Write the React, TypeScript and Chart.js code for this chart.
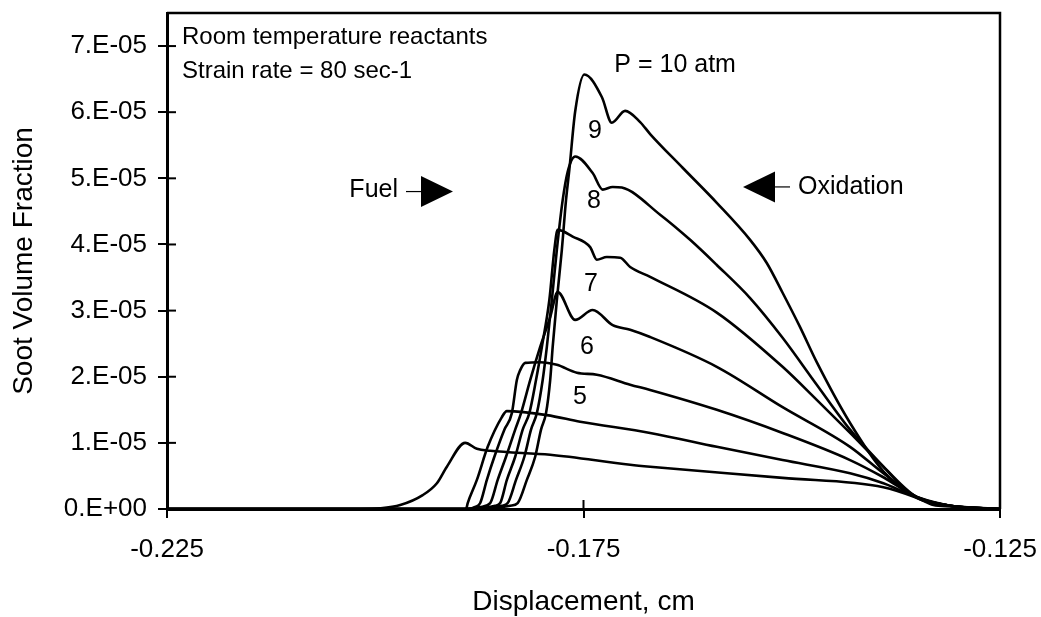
import React, { useEffect, useRef } from 'react';
import { Chart, registerables } from 'chart.js';

Chart.register(...registerables);

const FONT = '"Liberation Sans", Arial, Helvetica, sans-serif';

// Axis ticks
const xTicks = [-0.225, -0.175, -0.125];
const yTicks = [0, 1e-5, 2e-5, 3e-5, 4e-5, 5e-5, 6e-5, 7e-5];

// Pressure labels (atm)
const pressures = [4, 5, 6, 7, 8, 9, 10];

// Series: displacement (cm) and soot volume fraction
const p4X = [-0.225, -0.2018, -0.1994, -0.197, -0.1943, -0.1926, -0.1914, -0.1892, -0.1878, -0.1862, -0.179, -0.1694, -0.167, -0.1511, -0.139, -0.135, -0.133, -0.131, -0.128, -0.125];
const p4Y = [0, 0, 0.01e-5, 0.06e-5, 0.21e-5, 0.39e-5, 0.64e-5, 1.0e-5, 0.91e-5, 0.88e-5, 0.82e-5, 0.67e-5, 0.64e-5, 0.47e-5, 0.33e-5, 0.17e-5, 0.06e-5, 0.04e-5, 0.02e-5, 0];

const p5X = [-0.225, -0.1891, -0.1889, -0.1878, -0.1865, -0.1848, -0.1842, -0.1794, -0.1754, -0.167, -0.159, -0.1511, -0.143, -0.139, -0.135, -0.131, -0.128, -0.125];
const p5Y = [0, 0, 0.09e-5, 0.44e-5, 0.94e-5, 1.39e-5, 1.48e-5, 1.42e-5, 1.32e-5, 1.15e-5, 0.94e-5, 0.74e-5, 0.54e-5, 0.39e-5, 0.18e-5, 0.05e-5, 0.02e-5, 0];

const p6X = [-0.225, -0.189, -0.188, -0.1874, -0.1866, -0.1857, -0.1845, -0.1836, -0.183, -0.1826, -0.182, -0.1802, -0.1782, -0.1758, -0.1734, -0.1694, -0.167, -0.159, -0.1511, -0.143, -0.139, -0.135, -0.131, -0.125];
const p6Y = [0, 0, 0.03e-5, 0.09e-5, 0.44e-5, 0.79e-5, 1.2e-5, 1.45e-5, 1.95e-5, 2.1e-5, 2.21e-5, 2.22e-5, 2.18e-5, 2.06e-5, 2.03e-5, 1.88e-5, 1.8e-5, 1.5e-5, 1.15e-5, 0.74e-5, 0.48e-5, 0.18e-5, 0.05e-5, 0];

const p7X = [-0.225, -0.189, -0.1874, -0.1862, -0.1853, -0.1843, -0.1832, -0.1825, -0.1814, -0.1802, -0.179, -0.1781, -0.176, -0.1739, -0.1715, -0.1694, -0.167, -0.159, -0.1511, -0.143, -0.139, -0.135, -0.131, -0.125];
const p7Y = [0, 0, 0.03e-5, 0.09e-5, 0.44e-5, 0.79e-5, 1.2e-5, 1.45e-5, 1.95e-5, 2.45e-5, 2.9e-5, 3.28e-5, 2.86e-5, 3.01e-5, 2.78e-5, 2.71e-5, 2.6e-5, 2.15e-5, 1.54e-5, 0.94e-5, 0.54e-5, 0.18e-5, 0.05e-5, 0];

const p8X = [-0.225, -0.189, -0.1868, -0.1856, -0.185, -0.1842, -0.1832, -0.1823, -0.1815, -0.1807, -0.18, -0.1791, -0.1785, -0.1781, -0.1763, -0.1742, -0.1734, -0.1722, -0.1706, -0.1694, -0.167, -0.159, -0.1511, -0.147, -0.143, -0.139, -0.135, -0.131, -0.125];
const p8Y = [0, 0, 0.02e-5, 0.05e-5, 0.09e-5, 0.44e-5, 0.79e-5, 1.2e-5, 1.45e-5, 1.95e-5, 2.45e-5, 3.16e-5, 3.92e-5, 4.22e-5, 4.12e-5, 3.96e-5, 3.77e-5, 3.81e-5, 3.8e-5, 3.66e-5, 3.51e-5, 2.97e-5, 2.15e-5, 1.65e-5, 1.15e-5, 0.64e-5, 0.18e-5, 0.05e-5, 0];

const p9X = [-0.225, -0.189, -0.1862, -0.1848, -0.1841, -0.1831, -0.1821, -0.1813, -0.1806, -0.1799, -0.1794, -0.1788, -0.1782, -0.1775, -0.1769, -0.176, -0.1739, -0.1727, -0.1715, -0.1704, -0.1658, -0.1622, -0.159, -0.155, -0.1511, -0.147, -0.143, -0.139, -0.1358, -0.131, -0.125];
const p9Y = [0, 0, 0.02e-5, 0.05e-5, 0.09e-5, 0.44e-5, 0.79e-5, 1.2e-5, 1.45e-5, 1.95e-5, 2.45e-5, 3.16e-5, 3.92e-5, 4.67e-5, 5.1e-5, 5.33e-5, 5.08e-5, 4.83e-5, 4.87e-5, 4.86e-5, 4.45e-5, 4.07e-5, 3.69e-5, 3.19e-5, 2.59e-5, 1.88e-5, 1.2e-5, 0.64e-5, 0.24e-5, 0.05e-5, 0];

const p10X = [-0.225, -0.189, -0.1856, -0.1838, -0.1829, -0.1818, -0.1808, -0.1801, -0.1795, -0.179, -0.1787, -0.1782, -0.1776, -0.1771, -0.1767, -0.176, -0.1749, -0.1728, -0.1716, -0.17, -0.1682, -0.167, -0.1631, -0.159, -0.155, -0.153, -0.1511, -0.149, -0.147, -0.143, -0.139, -0.135, -0.131, -0.125];
const p10Y = [0, 0, 0.02e-5, 0.05e-5, 0.09e-5, 0.44e-5, 0.79e-5, 1.2e-5, 1.45e-5, 1.95e-5, 2.45e-5, 3.16e-5, 3.92e-5, 4.67e-5, 5.13e-5, 6.01e-5, 6.57e-5, 6.23e-5, 5.84e-5, 6.02e-5, 5.85e-5, 5.67e-5, 5.16e-5, 4.63e-5, 4.07e-5, 3.72e-5, 3.27e-5, 2.75e-5, 2.22e-5, 1.3e-5, 0.57e-5, 0.17e-5, 0.05e-5, 0];

const seriesX = [p4X, p5X, p6X, p7X, p8X, p9X, p10X];
const seriesY = [p4Y, p5Y, p6Y, p7Y, p8Y, p9Y, p10Y];

// Text annotations placed in data coordinates
const notes = [
  { text: 'Room temperature reactants', x: -0.2232, y: 7.03e-5, align: 'left', base: 'alphabetic', size: 24 },
  { text: 'Strain rate = 80 sec-1', x: -0.2232, y: 6.51e-5, align: 'left', base: 'alphabetic', size: 24 },
  { text: 'P = 10 atm', x: -0.1713, y: 6.61e-5, align: 'left', base: 'alphabetic', size: 25 },
  { text: '9', x: -0.17362, y: 5.72e-5, align: 'center', base: 'middle', size: 25 },
  { text: '8', x: -0.17374, y: 4.66e-5, align: 'center', base: 'middle', size: 25 },
  { text: '7', x: -0.1741, y: 3.4e-5, align: 'center', base: 'middle', size: 25 },
  { text: '6', x: -0.17458, y: 2.45e-5, align: 'center', base: 'middle', size: 25 },
  { text: '5', x: -0.17542, y: 1.69e-5, align: 'center', base: 'middle', size: 25 },
  { text: 'Fuel', x: -0.19727, y: 4.72e-5, align: 'right', base: 'alphabetic', size: 25 },
  { text: 'Oxidation', x: -0.14925, y: 4.77e-5, align: 'left', base: 'alphabetic', size: 25 },
];

// Arrow tips (dir 1 = pointing right, -1 = pointing left)
const arrows = [
  { x: -0.19067, y: 4.8e-5, dir: 1 },
  { x: -0.15585, y: 4.87e-5, dir: -1 },
];

function sci(v: number): string {
  if (Math.abs(v) < 1e-12) return '0.E+00';
  const e = Math.floor(Math.log10(Math.abs(v)) + 1e-9);
  const m = Math.round(v / Math.pow(10, e));
  const s = e < 0 ? '-' : '+';
  const a = Math.abs(e);
  return `${m}.E${s}${a < 10 ? '0' + a : a}`;
}

function noPad(s: any) {
  s.paddingTop = 0;
  s.paddingBottom = 0;
  s.paddingLeft = 0;
  s.paddingRight = 0;
}

const framePlugin = {
  id: 'frameAndNotes',
  afterDraw(chart: any) {
    const { ctx, chartArea: a, scales } = chart;
    const xs = scales.x;
    const ys = scales.y;
    ctx.save();
    ctx.strokeStyle = '#000';
    ctx.lineWidth = 2.5;
    ctx.beginPath();
    ctx.moveTo(a.left, a.top);
    ctx.lineTo(a.right, a.top);
    ctx.lineTo(a.right, a.bottom);
    ctx.stroke();

    ctx.lineWidth = 2;
    yTicks.forEach((v) => {
      const py = ys.getPixelForValue(v);
      ctx.beginPath();
      ctx.moveTo(a.left, py);
      ctx.lineTo(a.left + 9, py);
      ctx.stroke();
    });
    xTicks.forEach((v) => {
      const px = xs.getPixelForValue(v);
      ctx.beginPath();
      ctx.moveTo(px, a.bottom);
      ctx.lineTo(px, a.bottom - 9);
      ctx.stroke();
    });

    ctx.fillStyle = '#000';
    notes.forEach((n) => {
      ctx.font = `${n.size}px ${FONT}`;
      ctx.textAlign = n.align;
      ctx.textBaseline = n.base;
      ctx.fillText(n.text, xs.getPixelForValue(n.x), ys.getPixelForValue(n.y));
    });

    arrows.forEach((ar) => {
      const tx = xs.getPixelForValue(ar.x);
      const ty = ys.getPixelForValue(ar.y);
      const d = ar.dir;
      ctx.beginPath();
      ctx.moveTo(tx, ty);
      ctx.lineTo(tx - d * 32, ty - 15.5);
      ctx.lineTo(tx - d * 32, ty + 15.5);
      ctx.closePath();
      ctx.fill();
      ctx.lineWidth = 1.2;
      ctx.beginPath();
      ctx.moveTo(tx - d * 32, ty);
      ctx.lineTo(tx - d * 47, ty);
      ctx.stroke();
    });
    ctx.restore();
  },
};

export default function App() {
  const ref = useRef<HTMLCanvasElement | null>(null);

  useEffect(() => {
    if (!ref.current) return;
    const datasets = seriesX.map((xs, i) => ({
      label: `P = ${pressures[i]} atm`,
      data: xs.map((x, j) => ({ x, y: seriesY[i][j] })),
      borderColor: '#000',
      borderWidth: 2.6,
      pointRadius: 0,
      fill: false,
      cubicInterpolationMode: 'monotone' as const,
    }));

    const chart = new Chart(ref.current, {
      type: 'line',
      data: { datasets },
      options: {
        animation: false,
        responsive: false,
        devicePixelRatio: 1,
        layout: { padding: { left: 0, right: 41, top: 13, bottom: 0 } },
        plugins: { legend: { display: false }, tooltip: { enabled: false } },
        scales: {
          x: {
            type: 'linear',
            min: -0.225,
            max: -0.125,
            afterBuildTicks: (s: any) => {
              s.ticks = xTicks.map((v) => ({ value: v }));
            },
            afterFit: (s: any) => {
              s.height = 108;
              noPad(s);
            },
            grid: { drawOnChartArea: false, drawTicks: true, tickLength: 9, color: '#000', lineWidth: 2 },
            border: { display: true, color: '#000', width: 3 },
            ticks: {
              color: '#000',
              font: { family: FONT, size: 26 },
              padding: 16,
              maxRotation: 0,
              callback: (v: any) => Number(v).toFixed(3),
            },
            title: {
              display: true,
              text: 'Displacement, cm',
              color: '#000',
              font: { family: FONT, size: 28 },
              padding: { top: 0, bottom: -2 },
            },
          },
          y: {
            type: 'linear',
            min: 0,
            max: 7.5e-5,
            afterBuildTicks: (s: any) => {
              s.ticks = yTicks.map((v) => ({ value: v }));
            },
            afterFit: (s: any) => {
              s.width = 167;
              noPad(s);
            },
            grid: { drawOnChartArea: false, drawTicks: true, tickLength: 9, color: '#000', lineWidth: 2 },
            border: { display: true, color: '#000', width: 3 },
            ticks: {
              color: '#000',
              font: { family: FONT, size: 26 },
              padding: 11,
              callback: (v: any) => sci(Number(v)),
            },
            title: {
              display: true,
              text: 'Soot Volume Fraction',
              color: '#000',
              font: { family: FONT, size: 28 },
              padding: { top: 7, bottom: 0 },
            },
          },
        },
      },
      plugins: [framePlugin],
    });
    return () => chart.destroy();
  }, []);

  return (
    <div style={{ position: 'absolute', left: 0, top: 0, width: 1041, height: 617, background: '#fff' }}>
      <canvas ref={ref} width={1041} height={617} />
    </div>
  );
}
